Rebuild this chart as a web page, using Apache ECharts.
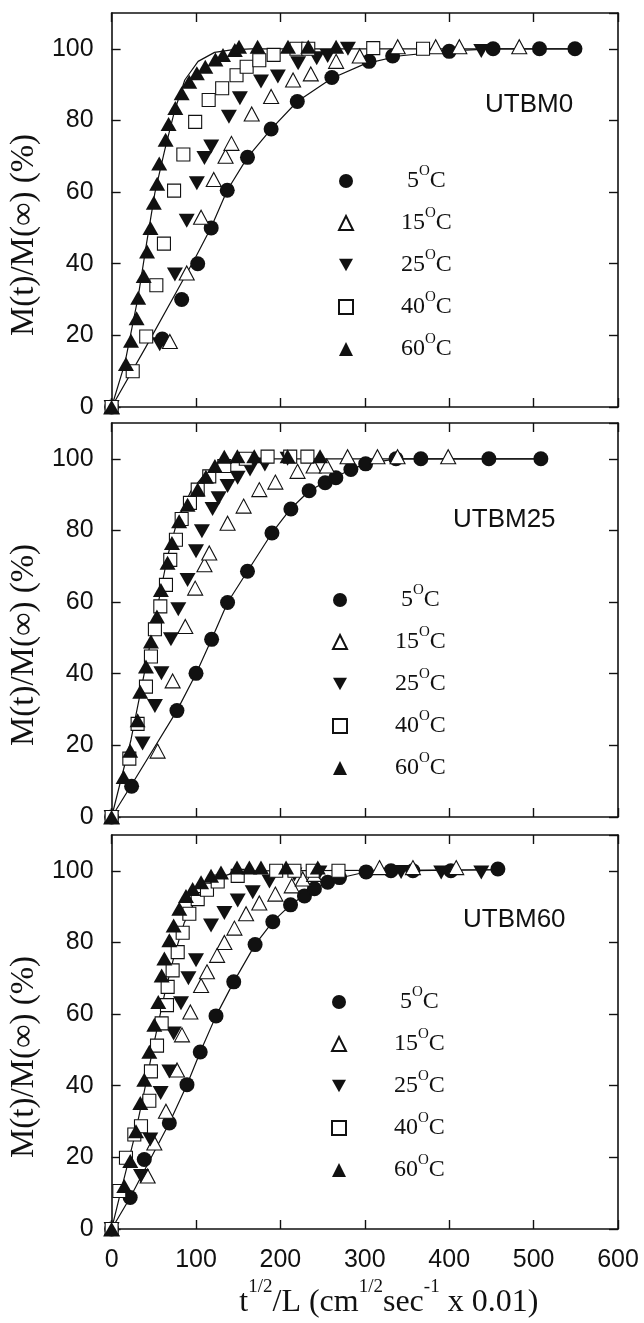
<!DOCTYPE html>
<html>
<head>
<meta charset="utf-8">
<script src="https://cdn.jsdelivr.net/npm/echarts@6/dist/echarts.min.js"></script>
<style>
  html, body { margin: 0; padding: 0; background: #fff; }
  #chart { width: 644px; height: 1323px; }
</style>
</head>
<body>
<div id="chart"></div>
<script>
// temperatures shown in the legends
const temps = ['5°C', '15°C', '25°C', '40°C', '60°C']
const panelLabels = ['UTBM0', 'UTBM25', 'UTBM60']
const xTicks = [0, 600, 100]
const yTicks = [0, 110, 20]

// UTBM0 (top panel)
const m0_5 = [[0,0],[60,19],[83,30],[102,40],[118,50],[137,60.5],[161,69.7],[189,77.6],[220,85.3],[261,92],[305,96.5],[333,98],[400,99.3],[452,100],[507,100],[549,100]]
const m0_15 = [[0,0],[69,18.3],[89,37.4],[106,53],[121,63.5],[135,70],[142,73.6],[166,81.8],[189,86.7],[215,91.3],[236,93],[266,96.5],[294,98],[339,100.6],[384,100.6],[412,100.6],[483,100.6]]
const m0_25 = [[0,0],[57,17.5],[75,37],[89,52],[101,62.5],[110,69.5],[118,72.7],[139,81],[152,86.2],[177,90.9],[197,92.3],[221,96],[243,97.4],[256,98],[280,100],[438,99.4]]
const m0_40 = [[0,0],[25,10],[41,19.7],[53,34],[62,45.6],[74,60.4],[85,70.5],[99,79.6],[115,85.7],[131,89],[148,92.6],[160,95],[175,96.8],[192,98.3],[219,100],[233,100],[310,100.2],[369,100]]
const m0_60 = [[0,0],[17,12],[23,18.5],[29.6,24.8],[31.5,30.5],[38,36.6],[42,43.4],[46,50],[50,57],[54,62.3],[56.4,68],[64,74.6],[67.5,79],[75.5,83.5],[83,87.6],[92,90.8],[101,93.2],[111,95],[123,97],[132,98.3],[146,99.7],[151,100.6],[173,100.6],[209,100.6],[233,100.6],[266,100.6]]
const f0_5 = [[0,0],[40,16.5],[80,33.5],[100,42],[118,50.2],[137,60.5],[161,69.7],[189,77.6],[220,85.3],[261,91.8],[300,95.8],[340,98],[400,99.4],[452,100],[549,100]]
const f0_60 = [[0,0],[15.7,12.2],[31.5,30.8],[41.4,45.7],[51.2,59.7],[63,71.8],[75,83],[86.7,91.3],[102.5,96.5],[122,99],[142,99.7],[165,100],[549,100]]

// UTBM25 (middle panel)
const m25_5 = [[0,0],[23.7,8.6],[77.4,29.7],[100,40.1],[118.5,49.6],[137.4,59.9],[161,68.6],[190,79.3],[212.4,86],[234,91.1],[253,93.3],[265.7,94.7],[283.5,97],[301,98.6],[337,100],[366.4,100],[447,100],[508.6,100]]
const m25_15 = [[0,0],[54.5,18.4],[72.3,38],[87.3,53.2],[99,63.9],[110,70.4],[115.7,73.7],[137.4,82],[156.4,86.8],[175,91.4],[194,93.5],[220.3,96.5],[239.3,98],[255,98],[279.6,100.6],[315,100.6],[338.8,100.6],[398.8,100.6]]
const m25_25 = [[0,0],[36.7,20.5],[51.3,31],[59,40.1],[70.3,49.6],[79,58],[90,66.2],[100,74.2],[107,79.8],[119.6,86],[126.8,89],[137.4,92.4],[149.3,94.7],[164,97],[181.6,98.4],[208.5,100]]
const m25_40 = [[0,0],[21,16.3],[30.8,26],[40.7,36.4],[46.6,44.8],[51.3,52.4],[57.7,58.8],[64.4,64.8],[69.5,71.8],[76.2,77.4],[83,83.2],[92.8,87.7],[102,91.4],[115.7,95.1],[133.5,98],[159,100],[184.8,100.6],[211.6,100.6],[232,100.6]]
const m25_60 = [[0,0],[14.2,11.2],[22,18.5],[30.8,27],[33.9,35],[40.7,42],[46.6,49],[53.7,56],[58.4,63.4],[66.3,71],[71.5,76.5],[80,82.6],[90,87.2],[102,91.4],[111.7,95],[122.4,98],[133.5,100.6],[149,100.7],[169,100.7],[208.5,100.7],[247,100.7]]
const f25_5 = [[0,0],[23.7,9],[77.4,29.7],[100,40],[118.5,49.6],[137.4,59.9],[161,68.6],[190,79.3],[212,86],[234,91],[253,93.5],[266,95],[283.5,97],[301,98.6],[337,100],[508.6,100]]
const f25_60 = [[0,0],[22.9,21.5],[38.7,40.1],[54.5,58.8],[66.3,72.8],[78.2,83],[94,91],[109.8,95.6],[129.5,98.4],[149,99.8],[170,100],[508.6,100]]

// UTBM60 (bottom panel)
const m60_5 = [[0,0],[22,8.8],[38.7,19.4],[68.4,29.6],[89.3,40.3],[105,49.4],[123.7,59.5],[144.7,69],[170,79.4],[191,85.8],[212,90.5],[228.5,93],[240.3,95],[256,96.8],[270,98.1],[301.6,99.7],[331,100],[357,100],[402,100],[457.7,100.5]]
const m60_15 = [[0,0],[42.7,14.8],[50.6,24],[64.4,32.9],[77.5,44.4],[83.4,54.2],[93.3,60.6],[106,68],[113,71.8],[125,76.4],[133.6,80],[145.5,84],[159.3,88],[175,91],[194,93.5],[213.4,95.8],[226.5,97.7],[240,99],[317.4,100.9],[357,100.9],[408.3,100.9]]
const m60_25 = [[0,0],[34.8,14.8],[45.8,25],[58.1,38],[68.4,44],[73.5,54.6],[82.2,63],[91,70],[100,75],[117.8,84.7],[133.6,88.2],[149.4,91.7],[167.2,94],[187,97],[216.6,99],[246.2,99.5],[343,99.7],[390.5,99.5],[438,99.5]]
const m60_40 = [[0,0],[9.1,10.6],[17,19.9],[26.9,26.4],[34.8,28.7],[44.7,35.8],[46.6,44],[53.8,51.2],[59.3,57.4],[65.6,62.5],[66.4,67.6],[72.3,72.2],[78.3,77.3],[84.2,82.7],[92.1,88],[102,92.1],[113,94.7],[125.7,97],[149.4,98.6],[195,100],[216.6,100],[238.3,100],[268.8,100]]
const m60_60 = [[0,0],[15,12],[22.1,19],[28.9,27.3],[34,35.2],[38.7,41.7],[44.7,49.5],[50.6,57],[55.3,63.4],[59.3,70.8],[62.5,75.5],[68.4,80.6],[73.5,84.7],[80.2,89.4],[88.1,93],[96,94.9],[106,96.8],[117.8,98.6],[129.6,99.5],[148.6,100.9],[163.2,100.9],[177,100.9],[206.7,100.9],[244.3,100.9]]
const f60_5 = [[0,0],[22,8.8],[68.4,29.6],[89.3,40.3],[105,49.4],[123.7,59.5],[144.7,69],[170,79.4],[191,85.8],[212,90.5],[240,95],[270,98],[300,99.6],[331,100],[457.7,100.3]]
const f60_60 = [[0,0],[11,10.6],[26.9,25.5],[38.7,38.4],[50.6,52.3],[62.5,65.3],[74.3,76.4],[86.2,85.6],[102,93],[121.7,97.7],[145.5,99.5],[165,100],[457.7,100.3]]

const points = [
  [m0_5, m0_15, m0_25, m0_40, m0_60],
  [m25_5, m25_15, m25_25, m25_40, m25_60],
  [m60_5, m60_15, m60_25, m60_40, m60_60]
]
const fits = [[f0_5, f0_60], [f25_5, f25_60], [f60_5, f60_60]]

const INK = '#111'
const SERIF = 'Liberation Serif'
const SANS = 'Liberation Sans'
const gridTops = [13, 423, 835]
const legendPos = [[338, 164], [332, 583], [331, 985]]
const titlePos = [[485, 92], [453, 507], [463, 907]]

// marker look per temperature
const markers = [
  { symbol: 'circle', symbolSize: 15, itemStyle: { color: INK, opacity: 1 } },
  { symbol: 'triangle', symbolSize: [15, 14], itemStyle: { color: '#fff', borderColor: INK, borderWidth: 1.1, opacity: 1 } },
  { symbol: 'path://M0,0L10,0L5,9Z', symbolSize: [16, 14], itemStyle: { color: INK, opacity: 1 } },
  { symbol: 'rect', symbolSize: 13, itemStyle: { color: '#fff', borderColor: INK, borderWidth: 1.1, opacity: 1 } },
  { symbol: 'triangle', symbolSize: [16, 14], itemStyle: { color: INK, opacity: 1 } }
]

function xAxisOf(i, pos) {
  const bottomLabels = pos === 'bottom' && i === 2
  const ax = {
    type: 'value', gridIndex: i, position: pos,
    min: xTicks[0], max: xTicks[1], interval: xTicks[2],
    axisLine: { show: true, onZero: false, lineStyle: { color: INK, width: 1.6 } },
    axisTick: { show: true, inside: true, length: 9, lineStyle: { color: INK, width: 1.4 } },
    axisLabel: { show: bottomLabels, margin: 19, fontFamily: SANS, fontSize: 25, color: INK },
    splitLine: { show: false }
  }
  if (bottomLabels) {
    ax.name = '{m|t}{s|1/2}{m|/L (cm}{s|1/2}{m|sec}{s|-1}{m| x 0.01)}'
    ax.nameLocation = 'middle'
    ax.nameGap = 49
    ax.nameTextStyle = {
      padding: [0, 0, 0, 48],
      rich: {
        m: { fontFamily: SERIF, fontSize: 32, lineHeight: 50, color: INK },
        s: { fontFamily: SERIF, fontSize: 19, lineHeight: 19, verticalAlign: 'top', color: INK }
      }
    }
  }
  return ax
}

function yAxisOf(i, pos) {
  const left = pos === 'left'
  const ax = {
    type: 'value', gridIndex: i, position: pos,
    min: yTicks[0], max: yTicks[1], interval: yTicks[2],
    axisLine: { show: true, onZero: false, lineStyle: { color: INK, width: 1.6 } },
    axisTick: { show: true, inside: true, length: 9, lineStyle: { color: INK, width: 1.4 } },
    axisLabel: { show: left, showMaxLabel: false, margin: 18, fontFamily: SANS, fontSize: 25, color: INK },
    splitLine: { show: false }
  }
  if (left) {
    ax.name = 'M(t)/M(\u221E) (%)'
    ax.nameLocation = 'middle'
    ax.nameRotate = 90
    ax.nameGap = 70
    ax.nameTextStyle = { fontFamily: SERIF, fontSize: 33, color: INK, padding: [0, 50, 0, 0] }
  }
  return ax
}

const grid = [], xAxis = [], yAxis = [], series = [], legend = [], title = []
for (let i = 0; i < 3; i++) {
  grid.push({ left: 111, right: 26, top: gridTops[i], height: 394 })
  xAxis.push(xAxisOf(i, 'bottom'), xAxisOf(i, 'top'))
  yAxis.push(yAxisOf(i, 'left'), yAxisOf(i, 'right'))

  fits[i].forEach(function (f) {
    series.push({
      name: 'fit', type: 'line', xAxisIndex: 2 * i, yAxisIndex: 2 * i,
      data: f, showSymbol: false, smooth: false,
      lineStyle: { color: INK, width: 1.2 }, z: 1, silent: true
    })
  })
  points[i].forEach(function (d, k) {
    series.push(Object.assign({
      name: temps[k], type: 'scatter', xAxisIndex: 2 * i, yAxisIndex: 2 * i,
      data: d, z: 2 + k, emphasis: { disabled: true }
    }, markers[k]))
  })

  legend.push({
    data: temps, orient: 'vertical', left: legendPos[i][0], top: legendPos[i][1],
    padding: 0, itemGap: 13, itemWidth: 14, itemHeight: 14, selectedMode: false,
    formatter: function (name) {
      const num = name.replace('°C', '')
      return (num.length === 1 ? '{sp1| }' : '{sp2| }') + '{n|' + num + '}{s|O}{n|C}'
    },
    textStyle: {
      rich: {
        sp1: { width: 49, lineHeight: 34 },
        sp2: { width: 43, lineHeight: 34 },
        n: { fontFamily: SERIF, fontSize: 24, lineHeight: 34, color: INK },
        s: { fontFamily: SERIF, fontSize: 15, lineHeight: 14, verticalAlign: 'top', color: INK }
      }
    }
  })

  title.push({
    text: panelLabels[i], left: titlePos[i][0], top: titlePos[i][1], padding: 0,
    textStyle: { fontFamily: SANS, fontSize: 26, fontWeight: 'normal', color: INK }
  })
}

const chart = echarts.init(document.getElementById('chart'))
chart.setOption({
  animation: false,
  backgroundColor: '#fff',
  title: title,
  legend: legend,
  grid: grid,
  xAxis: xAxis,
  yAxis: yAxis,
  series: series
})
</script>
</body>
</html>
